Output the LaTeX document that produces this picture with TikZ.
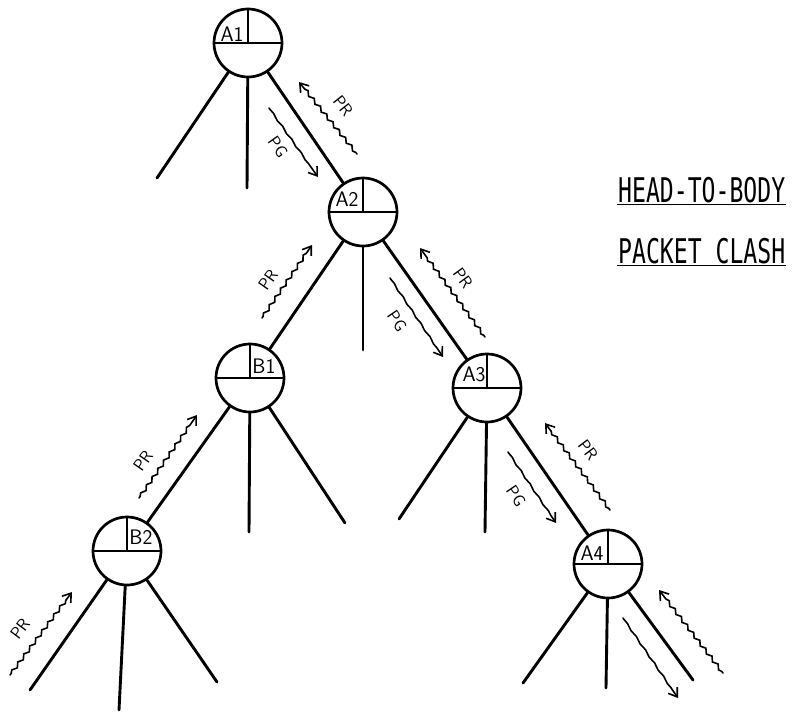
\documentclass[tikz,border=0pt]{standalone}
\usepackage{fontspec}
\newfontfamily\titlefont{DejaVu Sans Mono}
\usetikzlibrary{arrows.meta,decorations.pathmorphing}
\begin{document}
\begin{tikzpicture}[x=1pt,y=-1pt,
  nd/.style={circle,draw,line width=2.7pt,minimum size=68pt,inner sep=0pt},
  br/.style={line width=2.9pt,line cap=round},
  quarter/.style={line width=2.4pt},
  tip/.style={-{Straight Barb[length=8pt,width=11pt,line width=1.6pt]}},
  prarrow/.style={tip,line width=1.6pt,line cap=round,decorate,
    decoration={snake,amplitude=1.6pt,segment length=10pt,pre length=2pt,post length=9pt}},
  pgarrow/.style={tip,line width=1.6pt,line cap=round,decorate,
    decoration={snake,amplitude=0.6pt,segment length=16pt,pre length=2pt,post length=9pt}},
  nlab/.style={font=\sffamily\fontsize{21}{21}\selectfont,inner sep=0pt},
  alab/.style={font=\sffamily\fontsize{17}{17}\selectfont,inner sep=0pt},
  ttl/.style={font=\titlefont\fontsize{34}{34}\selectfont,inner sep=0pt,anchor=base west},
  uline/.style={line width=1.3pt}
]
\useasboundingbox (0,0) rectangle (804,712);

% nodes
\node[nd] (A1) at (248,43) {};
\node[nd] (A2) at (363,212) {};
\node[nd] (B1) at (250,378) {};
\node[nd] (A3) at (487,388) {};
\node[nd] (B2) at (127,551) {};
\node[nd] (A4) at (608,564) {};

% quarter divisions
\foreach \n in {A1,A2,B1,A3,B2,A4}{
  \draw[quarter] (\n.west) -- (\n.east) (\n.north) -- (\n.center);
}

% node labels
\node[nlab] (lA1) at (232,34) {A1};
\node[nlab] (lA2) at (347,199) {A2};
\node[nlab] (lB1) at (264,366) {B1};
\node[nlab] (lA3) at (474,374) {A3};
\node[nlab] (lB2) at (141,537) {B2};
\node[nlab] (lA4) at (592,553) {A4};

% leaf ends
\coordinate (a1l) at (157,178);
\coordinate (a1m) at (247,188);
\coordinate (a2m) at (363,350);
\coordinate (b1m) at (249,532);
\coordinate (b1r) at (345,523);
\coordinate (a3l) at (399,519);
\coordinate (a3m) at (485,532);
\coordinate (b2l) at (30,690);
\coordinate (b2m) at (119,710);
\coordinate (b2r) at (217,682);
\coordinate (a4l) at (523,683);
\coordinate (a4m) at (606,688);
\coordinate (a4r) at (693,680);

% tree edges
\draw[br] (A1) -- (a1l);
\draw[br] (A1) -- (a1m);
\draw[br] (A1) -- (A2);
\draw[br] (A2) -- (B1);
\draw[br] (A2) -- (a2m);
\draw[br] (A2) -- (A3);
\draw[br] (B1) -- (B2);
\draw[br] (B1) -- (b1m);
\draw[br] (B1) -- (b1r);
\draw[br] (A3) -- (a3l);
\draw[br] (A3) -- (a3m);
\draw[br] (A3) -- (A4);
\draw[br] (B2) -- (b2l);
\draw[br] (B2) -- (b2m);
\draw[br] (B2) -- (b2r);
\draw[br] (A4) -- (a4l);
\draw[br] (A4) -- (a4m);
\draw[br] (A4) -- (a4r);

% arrow end points
\coordinate (pg1s) at (269,108);  \coordinate (pg1e) at (318,177);
\coordinate (pr1s) at (357,154);  \coordinate (pr1e) at (299,82);
\coordinate (pg2s) at (390,278);  \coordinate (pg2e) at (443,357);
\coordinate (pr2s) at (485,337);  \coordinate (pr2e) at (420,248);
\coordinate (pr3s) at (262,318);  \coordinate (pr3e) at (312,245);
\coordinate (pr4s) at (139,498);  \coordinate (pr4e) at (197,415);
\coordinate (pr5s) at (10,675);   \coordinate (pr5e) at (72,592);
\coordinate (pg6s) at (508,452);  \coordinate (pg6e) at (556,523);
\coordinate (pr6s) at (610,510);  \coordinate (pr6e) at (545,423);
\coordinate (pg7s) at (623,618);  \coordinate (pg7e) at (678,698);
\coordinate (pr7s) at (723,673);  \coordinate (pr7e) at (659,590);

% packet arrows
\draw[pgarrow] (pg1s) -- (pg1e);
\draw[prarrow] (pr1s) -- (pr1e);
\draw[pgarrow] (pg2s) -- (pg2e);
\draw[prarrow] (pr2s) -- (pr2e);
\draw[prarrow] (pr3s) -- (pr3e);
\draw[prarrow] (pr4s) -- (pr4e);
\draw[prarrow] (pr5s) -- (pr5e);
\draw[pgarrow] (pg6s) -- (pg6e);
\draw[prarrow] (pr6s) -- (pr6e);
\draw[pgarrow] (pg7s) -- (pg7e);
\draw[prarrow] (pr7s) -- (pr7e);

% arrow labels
\node[alab,rotate=-52] (t1) at (343,106) {PR};
\node[alab,rotate=-55] (t2) at (278,147) {PG};
\node[alab,rotate=-54] (t3) at (463,278) {PR};
\node[alab,rotate=-56] (t4) at (397,321) {PG};
\node[alab,rotate=55] (t5) at (268,280) {PR};
\node[alab,rotate=55] (t6) at (143,461) {PR};
\node[alab,rotate=53] (t7) at (20,629) {PR};
\node[alab,rotate=-56] (t8) at (516,496) {PG};
\node[alab,rotate=-53] (t9) at (588,450) {PR};

% title
\node[ttl] (h1) at (618,202) {\scalebox{0.68}[1]{HEAD-TO-BODY}};
\node[ttl] (h2) at (618,263) {\scalebox{0.68}[1]{PACKET CLASH}};
\draw[uline] ([xshift=-1pt,yshift=-2.5pt]h1.base west) -- ([xshift=1pt,yshift=-2.5pt]h1.base east);
\draw[uline] ([xshift=-1pt,yshift=-2.5pt]h2.base west) -- ([xshift=1pt,yshift=-2.5pt]h2.base east);
\end{tikzpicture}
\end{document}
